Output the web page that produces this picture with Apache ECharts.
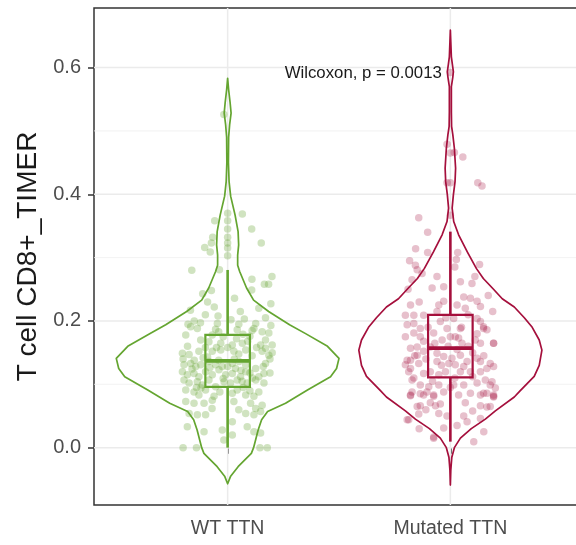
<!DOCTYPE html>
<html>
<head>
<meta charset="utf-8">
<script src="https://cdn.jsdelivr.net/npm/echarts@6/dist/echarts.min.js"></script>
<style>
  html, body { margin: 0; padding: 0; background: #ffffff; overflow: hidden; }
  #chart { width: 600px; height: 545px; }
</style>
</head>
<body>
<div id="chart"></div>
<script>
// ---- data ----
const categories = ['WT TTN', 'Mutated TTN'];
const yTicks = [0, 0.2, 0.4, 0.6];
const yMinorTicks = [0.1, 0.3, 0.5];

// box statistics: [lower whisker, Q1, median, Q3, upper whisker]
const boxWT = [0.0, 0.096, 0.137, 0.178, 0.2805];
const boxMut = [0.0095, 0.111, 0.157, 0.2095, 0.341];

// violin outlines: [value, relative density]
const violinWT = [
  [-0.057, 0], [-0.045, 0.027], [-0.030, 0.094], [-0.009, 0.213], [0.0, 0.233],
  [0.012, 0.251], [0.028, 0.274], [0.044, 0.305], [0.057, 0.359], [0.070, 0.520],
  [0.091, 0.717], [0.112, 0.924], [0.125, 0.978], [0.141, 1.0], [0.160, 0.897],
  [0.180, 0.700], [0.194, 0.556], [0.215, 0.368], [0.233, 0.233], [0.252, 0.170],
  [0.278, 0.108], [0.288, 0.090], [0.304, 0.090], [0.320, 0.099], [0.341, 0.094],
  [0.367, 0.067], [0.397, 0.027], [0.420, 0.013], [0.450, 0.007], [0.490, 0.009],
  [0.510, 0.018], [0.528, 0.031], [0.545, 0.022], [0.565, 0.009], [0.583, 0]
];
const violinMut = [
  [-0.059, 0], [-0.035, 0.004], [-0.015, 0.013], [0.0, 0.036], [0.015, 0.090],
  [0.030, 0.188], [0.045, 0.314], [0.058, 0.404], [0.080, 0.574], [0.090, 0.628],
  [0.1125, 0.753], [0.130, 0.798], [0.154, 0.822], [0.170, 0.798], [0.190, 0.735],
  [0.205, 0.664], [0.222, 0.574], [0.235, 0.466], [0.252, 0.377], [0.267, 0.296],
  [0.283, 0.233], [0.309, 0.152], [0.336, 0.074], [0.357, 0.030], [0.378, 0.016],
  [0.399, 0.027], [0.420, 0.042], [0.441, 0.047], [0.4726, 0.036], [0.494, 0.022],
  [0.507, 0.011], [0.530, 0.009], [0.570, 0.009], [0.585, 0.022], [0.5935, 0.027],
  [0.605, 0.018], [0.617, 0.009], [0.640, 0.004], [0.659, 0]
];

// jittered observations: [horizontal jitter, value]
const pointsWT = [
  [-0.017,0.526],[0.066,0.369],[-0.058,0.358],[0,0.370],[0,0.358],[0.108,0.345],[0,0.345],
  [-0.067,0.332],[-0.103,0.316],[-0.073,0.323],[0,0.332],[0,0.323],[0,0.315],[0,0.303],
  [-0.078,0.309],[0.151,0.323],[-0.161,0.280],[-0.037,0.281],[0.109,0.266],[0.199,0.270],
  [0.165,0.258],[0.184,0.258],[-0.112,0.243],[-0.073,0.248],[0.108,0.249],[-0.090,0.230],
  [0.031,0.236],[0.194,0.227],[-0.167,0.217],[-0.043,0.208],[0.057,0.215],[0.075,0.203],
  [0.015,0.202],[-0.178,0.195],[-0.122,0.197],[-0.046,0.196],[0.126,0.196],[0.194,0.193],
  [-0.10,0.21],[0.14,0.22],[0.17,0.205],[-0.15,0.20],[-0.06,0.222],[0.11,0.185],[0.05,0.195],
  [-0.166,0.191],[-0.136,0.188],[-0.054,0.187],[0.043,0.186],[0.118,0.188],[0.155,0.183],
  [0.185,0.181],[-0.069,0.178],[0.069,0.179],[-0.188,0.178],
  [-0.121,0.170],[-0.084,0.167],[-0.031,0.165],[0.021,0.162],[0.066,0.165],[0.148,0.162],
  [0.170,0.157],[0.200,0.162],
  [-0.203,0.149],[-0.173,0.147],[-0.129,0.152],[-0.069,0.152],[-0.031,0.154],[0.028,0.152],
  [0.081,0.154],[0.155,0.152],[0.185,0.146],
  [-0.196,0.131],[-0.166,0.133],[-0.143,0.128],[-0.121,0.131],[-0.084,0.136],[-0.054,0.131],
  [-0.024,0.128],[0.021,0.133],[0.051,0.136],[0.081,0.131],[0.126,0.125],[0.170,0.133],[0.163,0.117],
  [-0.203,0.120],[-0.181,0.115],[-0.151,0.117],[-0.129,0.112],[-0.099,0.120],[-0.069,0.115],
  [-0.039,0.123],[-0.009,0.115],[0.021,0.117],[0.058,0.112],[0.081,0.120],[0.111,0.110],
  [-0.196,0.107],[-0.173,0.102],[-0.136,0.104],[-0.114,0.099],[-0.084,0.107],[-0.054,0.096],
  [-0.016,0.104],[0.013,0.102],[0.043,0.107],[0.088,0.102],[0.126,0.107],[0.163,0.102],
  [-0.188,0.091],[-0.151,0.088],[-0.129,0.083],[-0.099,0.091],[-0.061,0.081],[0.021,0.086],
  [0.043,0.091],[0.081,0.083],[0.118,0.081],[0.140,0.088],
  [-0.188,0.073],[-0.151,0.070],[-0.106,0.070],[-0.069,0.075],[0.028,0.073],[0.103,0.070],
  [0.126,0.062],[0.155,0.067],
  [-0.173,0.054],[-0.136,0.052],[-0.099,0.052],[0.021,0.041],[0.081,0.054],[0.118,0.052],[0.148,0.057],
  [-0.181,0.033],[-0.106,0.025],[-0.024,0.028],[0.021,0.020],[0.088,0.033],[0.118,0.025],[0.148,0.023],
  [-0.017,0.012],
  [-0.200,0.000],[-0.140,0.000],[0.145,0.000],[0.178,0.000],
  [-0.02,0.175],[0.04,0.172],[0.09,0.168],[-0.05,0.158],[0.11,0.145],[-0.11,0.142],[0.03,0.140],
  [-0.15,0.138],[0.19,0.140],[0.16,0.128],[-0.04,0.138],[0.06,0.122],[-0.08,0.126],[0.10,0.118],
  [-0.16,0.124],[0.0,0.128],[0.14,0.112],[-0.02,0.109],[0.07,0.095],[-0.12,0.094],[0.19,0.118],
  [-0.09,0.143],[0.13,0.158],[-0.18,0.160],[0.10,0.176],[-0.04,0.183],[0.0,0.158],[0.05,0.148],
  [-0.10,0.158],[0.17,0.170],[0.035,0.125],[-0.14,0.095],[0.065,0.105],[-0.035,0.088],[0.10,0.090],
  [-0.07,0.062],[0.05,0.060],[-0.20,0.140],[0.20,0.150]
];
const pointsMut = [
  [0,0.592],[-0.015,0.479],[0,0.465],[0.018,0.466],[0.056,0.459],[-0.015,0.418],[0,0.418],
  [0.123,0.418],[0.142,0.413],[-0.142,0.363],[0,0.367],[-0.102,0.340],[-0.156,0.314],
  [-0.102,0.308],[-0.183,0.295],[-0.157,0.288],[0.033,0.308],[0.027,0.297],[0.131,0.289],
  [-0.149,0.281],[-0.127,0.275],[-0.172,0.265],[-0.082,0.252],[-0.030,0.254],[0.045,0.262],
  [0.097,0.259],[0.060,0.238],[0.090,0.236],[0.120,0.231],[0.135,0.223],[-0.030,0.231],
  [-0.052,0.225],[-0.179,0.225],[-0.202,0.209],[-0.164,0.209],[-0.120,0.209],[-0.060,0.215],
  [0.030,0.225],[0.067,0.220],[0.015,0.204],[-0.045,0.199],[-0.015,0.188],[0.045,0.188],
  [0.120,0.204],[0.135,0.199],[0.149,0.188],[0.164,0.186],[-0.194,0.194],[-0.164,0.196],
  [-0.135,0.188],[-0.202,0.175],[-0.164,0.181],[-0.135,0.175],[-0.120,0.168],[-0.075,0.181],
  [-0.037,0.170],[0,0.175],[0.022,0.175],[0.037,0.173],[0.052,0.165],[0.112,0.170],
  [0.135,0.165],[0.194,0.165],[-0.179,0.157],[-0.149,0.159],[-0.120,0.152],[-0.090,0.159],
  [-0.060,0.149],[-0.030,0.144],[0.007,0.141],[0.045,0.146],[-0.060,0.136],[-0.007,0.133],
  [0.022,0.131],[0.075,0.136],[0.120,0.141],[0.135,0.136],[0.179,0.133],[-0.202,0.131],
  [-0.179,0.138],[-0.149,0.146],[-0.142,0.133],[-0.187,0.120],[-0.164,0.110],[-0.120,0.117],
  [-0.090,0.120],[-0.052,0.115],[-0.022,0.120],[0.045,0.120],[0.090,0.120],[0.135,0.120],
  [0.164,0.125],[-0.135,0.099],[-0.097,0.096],[-0.052,0.099],[0.015,0.099],[0.060,0.099],
  [0.120,0.102],[0.157,0.107],[0.179,0.099],[-0.172,0.088],[-0.120,0.083],[-0.075,0.083],
  [-0.030,0.088],[0.090,0.086],[0.149,0.086],[0.194,0.083],[0.202,0.094],
  [-0.179,0.082],[-0.135,0.085],[-0.105,0.088],[-0.075,0.081],[-0.135,0.066],[-0.090,0.071],
  [-0.067,0.066],[-0.045,0.069],[-0.052,0.054],[-0.194,0.044],[-0.015,0.050],[-0.030,0.031],
  [-0.075,0.015],[0.060,0.050],[0.075,0.041],[0.037,0.083],[0.067,0.071],[0.135,0.083],
  [0.164,0.086],[0.194,0.081],[0.135,0.066],[0.164,0.064],[0.105,0.0095],[-0.142,0.053],
  [0.187,0.104],[0.194,0.080],[0.179,0.065],[0.135,0.046],[0.194,0.128],[0.194,0.165],
  [0.149,0.191],[-0.194,0.138],[-0.179,0.125],[-0.172,0.107],[-0.179,0.083],[-0.149,0.065],
  [-0.187,0.044],[-0.075,0.017],
  [-0.01,0.160],[0.03,0.155],[0.08,0.160],[-0.07,0.165],[0.10,0.150],[-0.11,0.140],[0.06,0.128],
  [-0.04,0.130],[0.15,0.145],[-0.16,0.145],[0.02,0.110],[-0.08,0.105],[0.10,0.112],[0.05,0.190],
  [-0.10,0.190],[0.12,0.180],[-0.02,0.205],[0.08,0.210],[-0.14,0.230],[0.17,0.240],[-0.06,0.270],
  [0.02,0.285],[0.11,0.270],[-0.19,0.250],[0.19,0.215],[0.0,0.095],[-0.11,0.060],[0.10,0.058],
  [0.03,0.035],[-0.14,0.030],[0.15,0.025]
];
const pValueText = 'Wilcoxon, p = 0.0013';

// ---- drawing ----
const FONT = '"Liberation Sans", Arial, Helvetica, sans-serif';
const COLORS = ['#64a530', '#a50f3c'];
const POINT_COLORS = ['rgba(100,165,48,0.38)', 'rgba(165,15,60,0.33)'];
const X_MIN = 0.4, X_MAX = 2.6, Y_MIN = -0.0905, Y_MAX = 0.694;
const VIOLIN_HALF = 0.5;   // half width (x units) at relative density 1
const BOX_HALF = 0.1;
const violins = [violinWT, violinMut];
const boxes = [boxWT, boxMut];
const groupData = categories.map((c, i) => [i + 1, i]);

const chart = echarts.init(document.getElementById('chart'), null, { renderer: 'canvas' });

const option = {
  animation: false,
  backgroundColor: '#ffffff',
  grid: {
    left: 94, top: 8, width: 490, height: 497,
    show: true, borderColor: '#333333', borderWidth: 1.5, backgroundColor: 'transparent'
  },
  xAxis: {
    type: 'value', min: X_MIN, max: X_MAX,
    axisLine: { show: false },
    splitLine: { show: false },
    axisTick: { show: true, customValues: [1, 2], length: 6, lineStyle: { color: '#333333', width: 1.5 } },
    axisLabel: {
      customValues: [1, 2], margin: 14,
      formatter: v => categories[Math.round(v) - 1] || '',
      color: '#4d4d4d', fontSize: 19.5, fontFamily: FONT
    }
  },
  yAxis: {
    type: 'value', min: Y_MIN, max: Y_MAX,
    name: 'T cell CD8+_TIMER', nameLocation: 'middle', nameGap: 51,
    nameTextStyle: { fontSize: 28, color: '#1a1a1a', fontFamily: FONT },
    axisLine: { show: false },
    splitLine: { show: false },
    axisTick: { show: true, customValues: yTicks, length: 6, lineStyle: { color: '#333333', width: 1.5 } },
    axisLabel: {
      customValues: yTicks, margin: 13,
      formatter: v => v.toFixed(1),
      color: '#4d4d4d', fontSize: 20, fontFamily: FONT
    }
  },
  series: [
    {
      // panel grid lines
      type: 'custom', z: 1, silent: true, clip: true,
      data: [[1, 0]],
      renderItem: (params, api) => {
        const children = [];
        yMinorTicks.forEach(v => {
          const a = api.coord([X_MIN, v]), b = api.coord([X_MAX, v]);
          children.push({ type: 'line', shape: { x1: a[0], y1: a[1], x2: b[0], y2: b[1] },
            style: { stroke: '#efefef', lineWidth: 0.8 } });
        });
        yTicks.forEach(v => {
          const a = api.coord([X_MIN, v]), b = api.coord([X_MAX, v]);
          children.push({ type: 'line', shape: { x1: a[0], y1: a[1], x2: b[0], y2: b[1] },
            style: { stroke: '#ebebeb', lineWidth: 1.5 } });
        });
        categories.forEach((c, i) => {
          const a = api.coord([i + 1, Y_MIN]), b = api.coord([i + 1, Y_MAX]);
          children.push({ type: 'line', shape: { x1: a[0], y1: a[1], x2: b[0], y2: b[1] },
            style: { stroke: '#ebebeb', lineWidth: 1.5 } });
        });
        return { type: 'group', children };
      }
    },
    {
      // violins
      type: 'custom', z: 2, silent: true, clip: true,
      data: groupData,
      renderItem: (params, api) => {
        const x = api.value(0);
        const g = api.value(1);
        const prof = violins[g];
        const right = prof.map(([v, d]) => api.coord([x + d * VIOLIN_HALF, v]));
        const left = prof.slice().reverse().map(([v, d]) => api.coord([x - d * VIOLIN_HALF, v]));
        return {
          type: 'polygon',
          shape: { points: right.concat(left), smooth: 0 },
          style: { fill: 'none', stroke: COLORS[g], lineWidth: 1.7, lineJoin: 'round' }
        };
      }
    },
    {
      type: 'scatter', z: 3, silent: true,
      symbol: 'circle', symbolSize: 7.5,
      itemStyle: { color: POINT_COLORS[0] },
      data: pointsWT.map(([dx, v]) => [1 + dx, v])
    },
    {
      type: 'scatter', z: 3, silent: true,
      symbol: 'circle', symbolSize: 7.5,
      itemStyle: { color: POINT_COLORS[1] },
      data: pointsMut.map(([dx, v]) => [2 + dx, v])
    },
    {
      // box plots
      type: 'custom', z: 4, silent: true, clip: true,
      data: groupData,
      renderItem: (params, api) => {
        const x = api.value(0);
        const g = api.value(1);
        const [lw, q1, med, q3, uw] = boxes[g];
        const c = COLORS[g];
        const tl = api.coord([x - BOX_HALF, q3]);
        const br = api.coord([x + BOX_HALF, q1]);
        const m1 = api.coord([x - BOX_HALF, med]);
        const m2 = api.coord([x + BOX_HALF, med]);
        const wTop = api.coord([x, uw]);
        const wQ3 = api.coord([x, q3]);
        const wQ1 = api.coord([x, q1]);
        const wBot = api.coord([x, lw]);
        return {
          type: 'group',
          children: [
            { type: 'line', shape: { x1: wTop[0], y1: wTop[1], x2: wQ3[0], y2: wQ3[1] },
              style: { stroke: c, lineWidth: 2.6 } },
            { type: 'line', shape: { x1: wQ1[0], y1: wQ1[1], x2: wBot[0], y2: wBot[1] },
              style: { stroke: c, lineWidth: 2.6 } },
            { type: 'rect', shape: { x: tl[0], y: tl[1], width: br[0] - tl[0], height: br[1] - tl[1] },
              style: { fill: 'none', stroke: c, lineWidth: 2.2 } },
            { type: 'line', shape: { x1: m1[0], y1: m1[1], x2: m2[0], y2: m2[1] },
              style: { stroke: c, lineWidth: 3.8 } }
          ]
        };
      }
    },
    {
      // test annotation
      type: 'custom', z: 5, silent: true, clip: false,
      data: [[1.256, 0.5915]],
      renderItem: (params, api) => {
        const p = api.coord([api.value(0), api.value(1)]);
        return {
          type: 'text', x: p[0], y: p[1],
          style: { text: pValueText, fill: '#1a1a1a', fontSize: 16.8, fontFamily: FONT,
                   align: 'left', verticalAlign: 'middle' }
        };
      }
    }
  ]
};

chart.setOption(option);
</script>
</body>
</html>
